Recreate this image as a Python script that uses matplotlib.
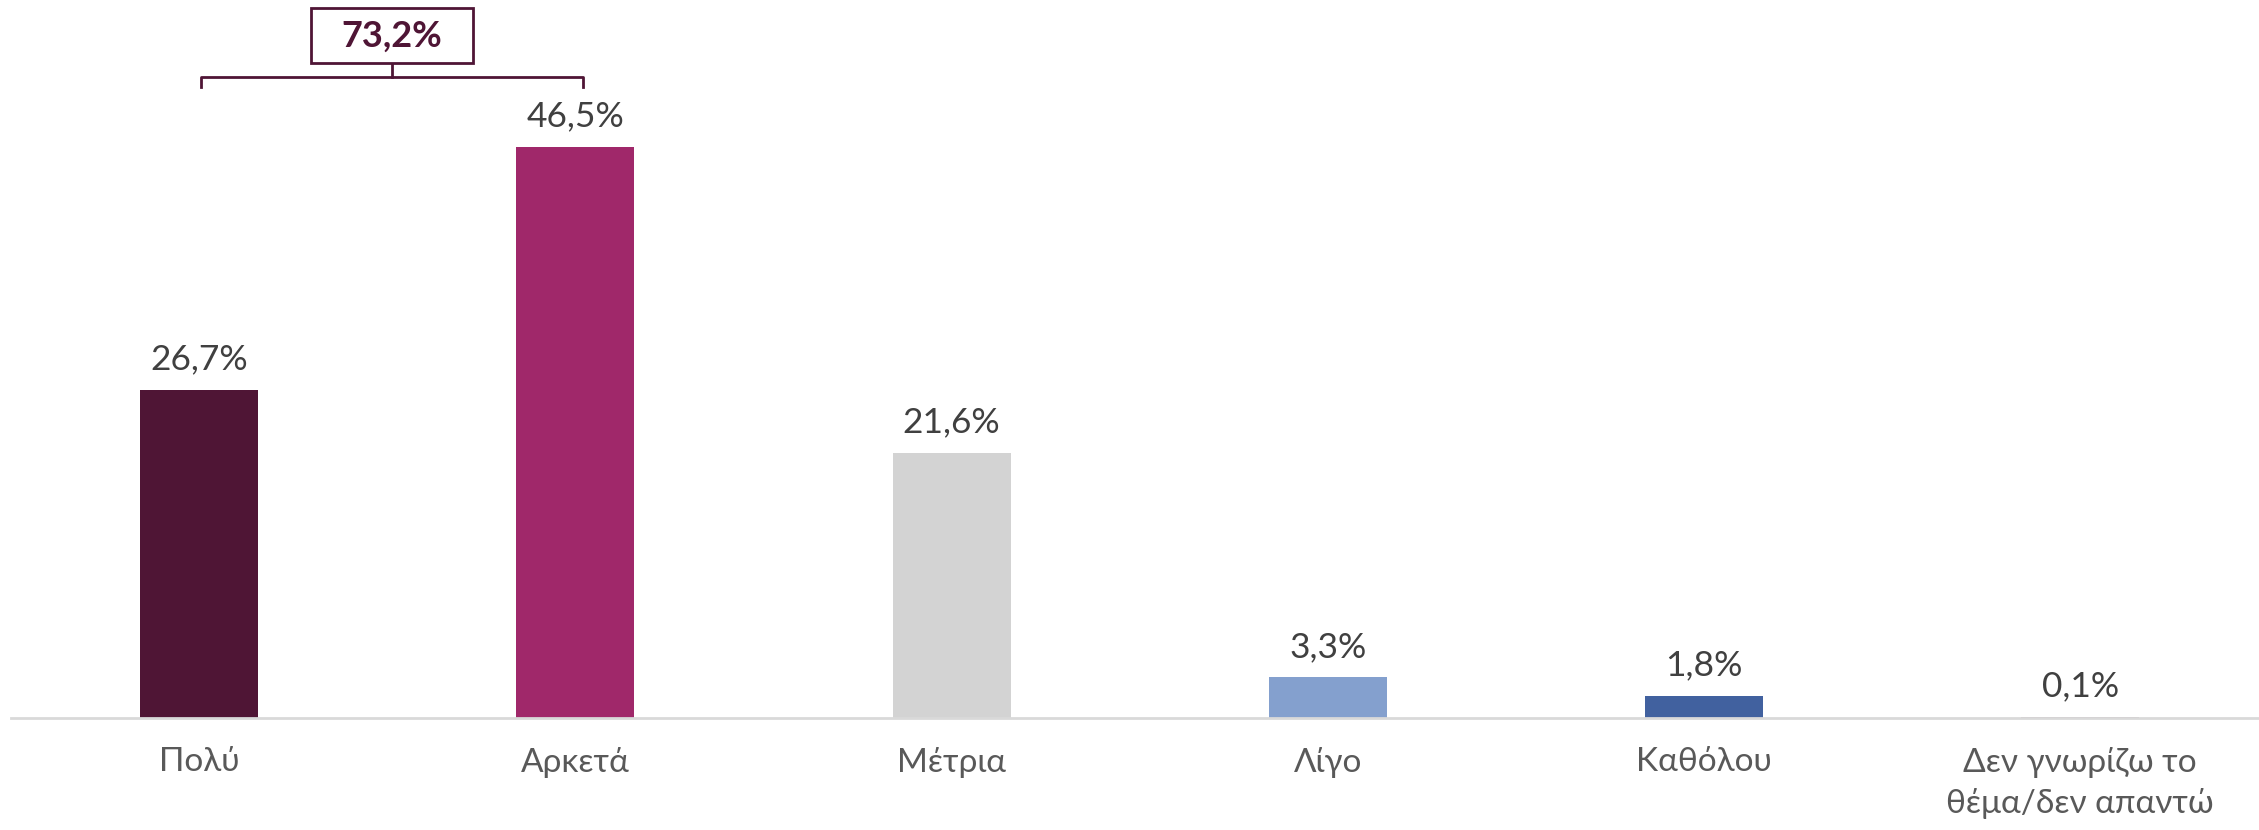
import matplotlib
matplotlib.use("Agg")
import matplotlib.pyplot as plt
from matplotlib.patches import Rectangle
import numpy as np

plt.rcParams["font.family"] = ["Lato", "Noto Sans", "DejaVu Sans"]

categories = ["Πολύ", "Αρκετά", "Μέτρια", "Λίγο", "Καθόλου", "Δεν γνωρίζω το\nθέμα/δεν απαντώ"]
values = [26.7, 46.5, 21.6, 3.3, 1.8, 0.1]
colors = ["#4F1535", "#A0286A", "#D3D3D3", "#84A0CE", "#41619F", "#B8A3AD"]
sum_label = "73,2%"  # Πολύ + Αρκετά

def fmt(v):
    return f"{v:.1f}%".replace(".", ",")

W, H = 2259, 830
fig = plt.figure(figsize=(W / 100, H / 100), dpi=100)
ax = fig.add_axes([11 / W, (H - 718) / H, (W - 11) / W, 718 / H])

x = np.arange(len(categories))
bars = ax.bar(x, values, width=0.314, color=colors, zorder=2)

ax.set_xlim(-0.5, 5.475)
ax.set_ylim(0, 58.47)

for s in ["top", "right", "left"]:
    ax.spines[s].set_visible(False)
ax.spines["bottom"].set_color("#D9D9D9")
ax.spines["bottom"].set_linewidth(2)
ax.set_yticks([])
ax.set_xticks(x, categories, fontsize=24, color="#595959")
ax.tick_params(axis="x", length=0, pad=21)
for lbl in ax.get_xticklabels():
    lbl.set_linespacing(1.4)

for b, v in zip(bars, values):
    ax.annotate(fmt(v), (b.get_x() + b.get_width() / 2, v), xytext=(0, 22),
                textcoords="offset points", ha="center", va="center",
                fontsize=25.5, color="#404040")

# bracket over the first two bars
mc = "#4F1535"
top = max(values[0], values[1])
yb = top + 5.7
x0, x1 = x[0] + 0.005, x[1] + 0.02
xm = (x0 + x1) / 2
ax.plot([x0, x0, x1, x1], [yb - 0.8, yb, yb, yb - 0.8], color=mc, lw=2,
        clip_on=False, solid_joinstyle="round")
ax.plot([xm, xm], [yb, yb + 1.1], color=mc, lw=2, clip_on=False)
ax.add_patch(Rectangle((xm - 0.216, yb + 1.1), 0.432, 4.5, fc="white", ec=mc,
                       lw=2, clip_on=False, zorder=3))
ax.text(xm, yb + 3.35, sum_label, ha="center", va="center", fontsize=26,
        fontweight="bold", color=mc, zorder=4)

fig.savefig("out.png", dpi=100)
